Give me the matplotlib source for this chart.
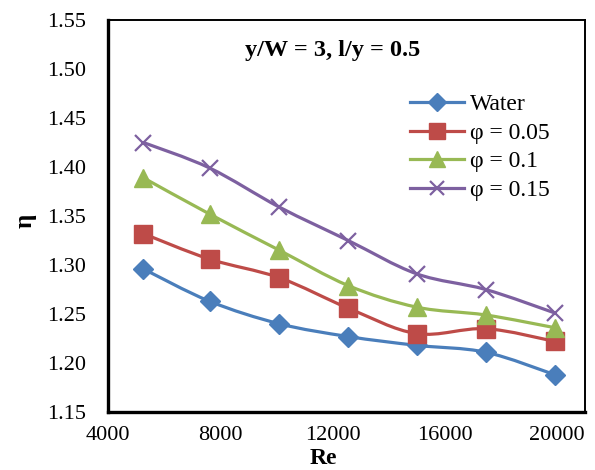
import numpy as np
import matplotlib
matplotlib.use('Agg')
import matplotlib.pyplot as plt
from matplotlib.path import Path
from matplotlib.patches import PathPatch

plt.rcParams['font.family'] = ['Liberation Serif', 'DejaVu Serif']

# data
re_vals = [5260, 7620, 10110, 12560, 15000, 17460, 19930]
eta_water = [1.296, 1.263, 1.240, 1.227, 1.218, 1.211, 1.188]
eta_005 = [1.332, 1.306, 1.287, 1.256, 1.230, 1.235, 1.222]
eta_01 = [1.389, 1.352, 1.315, 1.279, 1.257, 1.249, 1.236]
eta_015 = [1.425, 1.399, 1.359, 1.325, 1.291, 1.275, 1.251]

labels = ['Water', 'φ = 0.05', 'φ = 0.1', 'φ = 0.15']
colors = ['#4A7EBB', '#BE4B48', '#98B954', '#7D60A0']
markers = ['D', 's', '^', 'x']
msizes = [10.5, 13, 13, 12]


def smooth_path(x, y):
    # excel-like smoothed line: cubic bezier segments through the points
    x = np.asarray(x, float)
    y = np.asarray(y, float)
    n = len(x)
    verts = [(x[0], y[0])]
    codes = [Path.MOVETO]
    for i in range(n - 1):
        i0 = max(i - 1, 0)
        i3 = min(i + 2, n - 1)
        c1 = (x[i] + (x[i + 1] - x[i0]) / 6, y[i] + (y[i + 1] - y[i0]) / 6)
        c2 = (x[i + 1] - (x[i3] - x[i]) / 6, y[i + 1] - (y[i3] - y[i]) / 6)
        verts += [c1, c2, (x[i + 1], y[i + 1])]
        codes += [Path.CURVE4] * 3
    return Path(verts, codes)


fig = plt.figure(figsize=(5.95, 4.70), dpi=100)
ax = fig.add_axes([108 / 595, 58 / 470, 477 / 595, 392 / 470])

series = [eta_water, eta_005, eta_01, eta_015]
for s, lab, c, m, ms in zip(series, labels, colors, markers, msizes):
    ax.add_patch(PathPatch(smooth_path(re_vals, s), fill=False, edgecolor=c, lw=2.3, zorder=2))
    if m == 'x':
        ax.plot(re_vals, s, ls='none', marker=m, color=c, ms=ms, mew=1.6, zorder=3)
    else:
        ax.plot(re_vals, s, ls='none', marker=m, color=c, ms=ms, zorder=3)
    # legend proxy
    ax.plot([], [], color=c, lw=2.3, marker=m, ms=ms * 0.85,
            mew=1.6 if m == 'x' else 1, label=lab)

ax.set_xlim(4000, 21000)
ax.set_ylim(1.15, 1.55)
ax.set_xticks([4000, 8000, 12000, 16000, 20000])
ax.set_yticks(np.arange(1.15, 1.551, 0.05))
ax.set_yticklabels(['%.2f' % v for v in np.arange(1.15, 1.551, 0.05)])
ax.tick_params(axis='both', length=0, labelsize=16)
ax.tick_params(axis='x', pad=10)
ax.tick_params(axis='y', pad=16)

for side in ['left', 'bottom']:
    ax.spines[side].set_linewidth(2.4)
for side in ['top', 'right']:
    ax.spines[side].set_linewidth(1.4)

ax.text(0.47, 0.923, 'y/W = 3, l/y = 0.5', transform=ax.transAxes,
        ha='center', va='center', fontsize=17.5, fontweight='bold')

ax.legend(loc='upper left', bbox_to_anchor=(0.633, 0.812), frameon=False,
          fontsize=17, handlelength=2.3, handletextpad=0.25, labelspacing=0.3,
          borderpad=0, borderaxespad=0)

fig.text(323 / 595, 1 / 470, 'Re', ha='center', va='bottom', fontsize=17, fontweight='bold')
fig.text(25 / 595, 249 / 470, 'η', ha='center', va='center', rotation=90,
         fontsize=18, fontweight='bold')

fig.savefig('out.png', dpi=100)
